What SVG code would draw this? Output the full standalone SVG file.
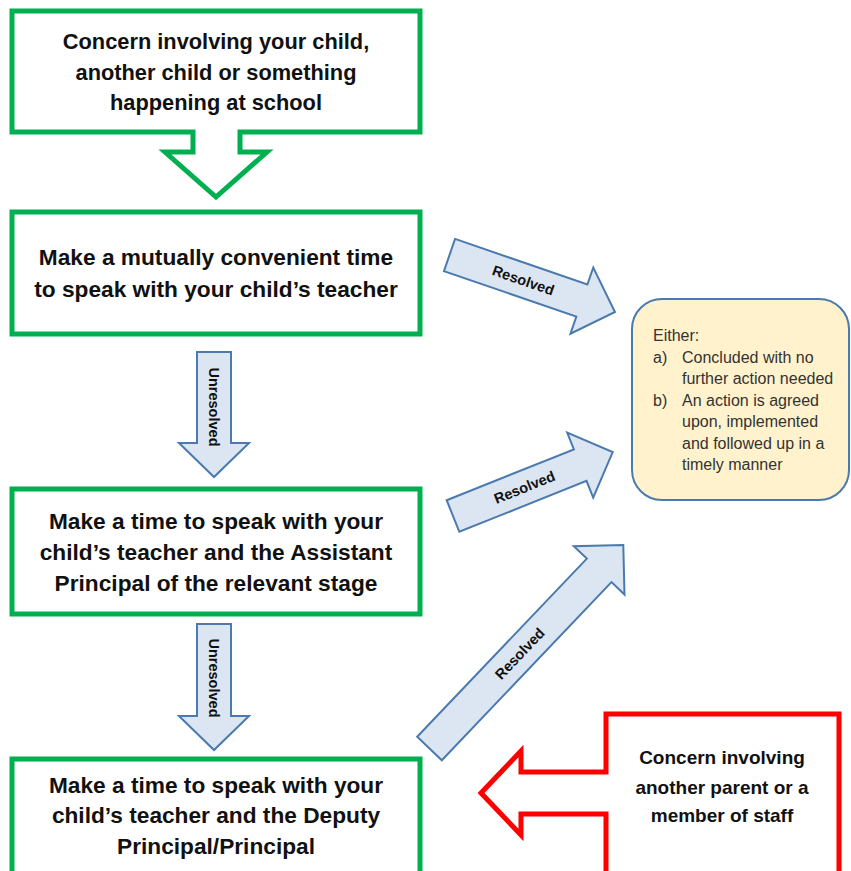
<svg xmlns="http://www.w3.org/2000/svg" width="851" height="871" viewBox="0 0 851 871">
<style>
.bg{fill:#ffffff}
.gbox{fill:#ffffff;stroke:#00B050;stroke-width:5}
.rbox{fill:#ffffff;stroke:#FF0000;stroke-width:5}
.arw{fill:#DCE6F2;stroke:#4A7AAE;stroke-width:2;stroke-linejoin:miter}
.note{fill:#FFF2CC;stroke:#4A7AAE;stroke-width:2}
.big{font-family:"Liberation Sans",Arial,sans-serif;font-weight:bold;font-size:22.7px;fill:#111;text-anchor:middle}
.top{font-size:21.8px}
.red{font-family:"Liberation Sans",Arial,sans-serif;font-weight:bold;font-size:19px;fill:#111;text-anchor:middle}
.lbl{font-family:"Liberation Sans",Arial,sans-serif;font-weight:bold;font-size:14.5px;fill:#111;text-anchor:middle;dominant-baseline:central}
.sm{font-family:"Liberation Sans",Arial,sans-serif;font-size:16px;fill:#333}
</style>
<rect class="bg" x="0" y="0" width="851" height="871"/>

<g id="node-start">
<path class="gbox" d="M12,11 H420 V132 H240 V152 H267 L216,197 L165,152 H193 V132 H12 Z"/>
<text class="big top" x="216" y="49">Concern involving your child,</text>
<text class="big top" x="216" y="80">another child or something</text>
<text class="big top" x="216" y="110">happening at school</text>
</g>

<g id="node-teacher">
<rect class="gbox" x="12" y="212" width="408" height="122"/>
<text class="big" x="216" y="265">Make a mutually convenient time</text>
<text class="big" x="216" y="297">to speak with your child’s teacher</text>
</g>

<g id="node-assistant">
<rect class="gbox" x="12" y="489" width="408" height="125"/>
<text class="big" x="216" y="529">Make a time to speak with your</text>
<text class="big" x="216" y="560">child’s teacher and the Assistant</text>
<text class="big" x="216" y="591">Principal of the relevant stage</text>
</g>

<g id="node-deputy">
<rect class="gbox" x="12" y="759" width="408" height="140"/>
<text class="big" x="216" y="793">Make a time to speak with your</text>
<text class="big" x="216" y="823">child’s teacher and the Deputy</text>
<text class="big" x="216" y="854">Principal/Principal</text>
</g>

<g id="node-outcome">
<rect class="note" x="632" y="299" width="217" height="201" rx="30" ry="30"/>
<text class="sm" x="653" y="341">Either:</text>
<text class="sm" x="653" y="363">a)</text>
<text class="sm" x="682" y="363">Concluded with no</text>
<text class="sm" x="682" y="384">further action needed</text>
<text class="sm" x="653" y="406">b)</text>
<text class="sm" x="682" y="406">An action is agreed</text>
<text class="sm" x="682" y="427">upon, implemented</text>
<text class="sm" x="682" y="449">and followed up in a</text>
<text class="sm" x="682" y="470">timely manner</text>
</g>

<g id="node-other">
<path class="rbox" d="M606,880 V814 H521 V835 L481,793 L521,751 V772 H606 V714 H839 V880"/>
<text class="red" x="722" y="764">Concern involving</text>
<text class="red" x="722" y="794">another parent or a</text>
<text class="red" x="722" y="822">member of staff</text>
</g>

<g id="connectors">
<g id="unresolved-1">
<path class="arw" d="M197,352 H231 V443 H249 L214,477 L179,443 H197 Z"/>
<text class="lbl" transform="translate(214,407) rotate(90)">Unresolved</text>
</g>
<g id="unresolved-2">
<path class="arw" d="M197,624 H231 V716 H249 L214,750 L179,716 H197 Z"/>
<text class="lbl" transform="translate(214,678) rotate(90)">Unresolved</text>
</g>
<g id="resolved-1" transform="translate(449.5,255) rotate(19)">
<path class="arw" d="M0,-17 H140 V-35 L175,0 L140,35 V17 H0 Z"/>
<text class="lbl" x="78" y="0">Resolved</text>
</g>
<g id="resolved-2" transform="translate(453,516) rotate(-21.8)">
<path class="arw" d="M0,-17 H137 V-35 L172,0 L137,35 V17 H0 Z"/>
<text class="lbl" x="77" y="0">Resolved</text>
</g>
<g id="resolved-3" transform="translate(429.5,748.5) rotate(-46.4)">
<path class="arw" d="M0,-17 H246 V-35 L281,0 L246,35 V17 H0 Z"/>
<text class="lbl" x="131" y="0">Resolved</text>
</g>
</g>
</svg>
